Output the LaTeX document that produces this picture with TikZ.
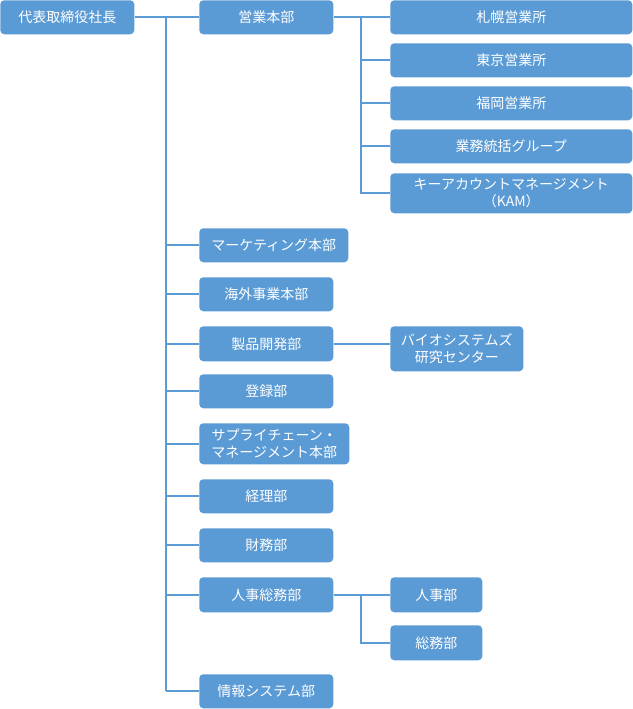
\documentclass[tikz,border=0pt]{standalone}
\usepackage{fontspec}
\setmainfont{Noto Sans CJK JP}
\definecolor{boxblue}{HTML}{5B9BD5}
\begin{document}
\begin{tikzpicture}[x=0.75pt,y=-0.75pt,
    box/.style={fill=boxblue,text=white,rounded corners=3pt,inner sep=0pt,
      align=center,anchor=north west,minimum height=34*0.75pt,
      font=\fontsize{10.5}{12.8}\selectfont},
    link/.style={draw=boxblue,line width=1.5pt}]
    % parâmetros
    \def\u{0.75pt}
    \useasboundingbox (0,0) rectangle (632,709);

    % topo
    \node[box,minimum width=134*\u] (ceo) at (0,0) {代表取締役社長};
    \node[box,minimum width=134*\u] (eigyo) at (199,0) {営業本部};

    % 営業所
    \node[box,minimum width=242*\u] (sapporo) at (390,0) {札幌営業所};
    \node[box,minimum width=242*\u] (tokyo) at (390,43) {東京営業所};
    \node[box,minimum width=242*\u] (fukuoka) at (390,86) {福岡営業所};
    \node[box,minimum width=242*\u] (gyomu) at (390,129) {業務統括グループ};
    \node[box,minimum width=242*\u,minimum height=40*\u] (kam) at (390,173)
      {キーアカウントマネージメント\\（KAM）};

    % 本部・部
    \node[box,minimum width=149*\u] (mkt) at (199,228) {マーケティング本部};
    \node[box,minimum width=134*\u] (kaigai) at (199,277) {海外事業本部};
    \node[box,minimum width=134*\u,minimum height=35*\u] (seihin) at (199,326) {製品開発部};
    \node[box,minimum width=133*\u,minimum height=45*\u] (bio) at (390,326)
      {バイオシステムズ\\研究センター};
    \node[box,minimum width=134*\u] (toroku) at (199,374) {登録部};
    \node[box,minimum width=150*\u,minimum height=41*\u] (supply) at (199,423)
      {サプライチェーン・\\マネージメント本部};
    \node[box,minimum width=134*\u] (keiri) at (199,479) {経理部};
    \node[box,minimum width=134*\u] (zaimu) at (199,528) {財務部};
    \node[box,minimum width=134*\u,minimum height=35*\u] (jinji) at (199,577) {人事総務部};
    \node[box,minimum width=92*\u,minimum height=35*\u] (jinjibu) at (390,577) {人事部};
    \node[box,minimum width=92*\u,minimum height=35*\u] (somu) at (390,625) {総務部};
    \node[box,minimum width=134*\u] (joho) at (199,674) {情報システム部};

    % troncos
    \coordinate (t1) at (166,17);
    \coordinate (t1e) at (166,691);
    \coordinate (t2) at (361,17);
    \coordinate (t3) at (361,594.5);

    % ligações
    \draw[link] (ceo.east) -- (eigyo.west);
    \draw[link] (t1) -- (t1e);
    \foreach \n in {mkt,kaigai,seihin,toroku,supply,keiri,zaimu,jinji,joho}
      \draw[link] (\n.west -| t1) -- (\n.west);
    \draw[link] (eigyo.east) -- (sapporo.west);
    \draw[link] (t2) |- (kam.west);
    \foreach \n in {tokyo,fukuoka,gyomu}
      \draw[link] (\n.west -| t2) -- (\n.west);
    \draw[link] (seihin.east) -- (seihin.east -| bio.west);
    \draw[link] (jinji.east) -- (jinjibu.west);
    \draw[link] (t3) |- (somu.west);
\end{tikzpicture}
\end{document}
